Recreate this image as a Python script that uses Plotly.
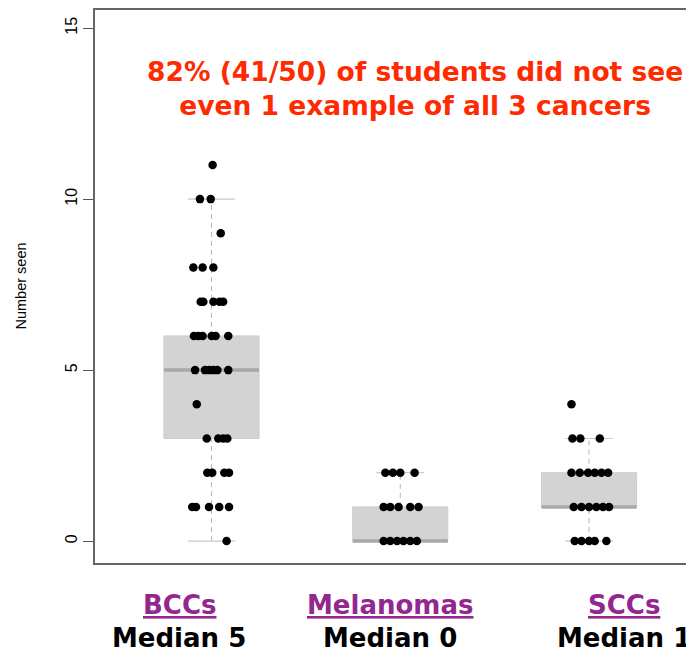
import plotly.graph_objects as go

# ---------------- data ----------------
categories = ["BCCs", "Melanomas", "SCCs"]
medians_text = ["Median 5", "Median 0", "Median 1"]
positions = [1, 2, 3]

# box statistics (R-style hinges)
q1 = [3, 0, 1]
median = [5, 0, 1]
q3 = [6, 1, 2]
lower_whisker = [0, 0, 0]
upper_whisker = [10, 2, 3]

bcc_values = [11, 10, 10, 9, 8, 8, 8, 7, 7, 7, 7, 7, 6, 6, 6, 6, 6, 6,
              5, 5, 5, 5, 5, 5, 4, 3, 3, 3, 3, 2, 2, 2, 2, 1, 1, 1, 1, 1, 0]
bcc_jitter = [0.006, -0.061, -0.004, 0.049, -0.096, -0.047, 0.010,
              -0.057, -0.043, 0.010, 0.043, 0.062,
              -0.093, -0.070, -0.047, 0.001, 0.022, 0.089,
              -0.087, -0.034, -0.012, 0.010, 0.031, 0.089,
              -0.078, -0.025, 0.036, 0.062, 0.084,
              -0.022, 0.004, 0.068, 0.093,
              -0.102, -0.082, -0.013, 0.041, 0.093, 0.080]

mel_values = [2, 2, 2, 2, 1, 1, 1, 1, 1, 0, 0, 0, 0, 0, 0]
mel_jitter = [-0.079, -0.039, 0.000, 0.076,
              -0.088, -0.053, -0.009, 0.053, 0.097,
              -0.088, -0.053, -0.017, 0.017, 0.053, 0.088]

scc_values = [4, 3, 3, 3, 2, 2, 2, 2, 2, 2, 1, 1, 1, 1, 1, 1, 0, 0, 0, 0, 0]
scc_jitter = [-0.093, -0.088, -0.046, 0.057,
              -0.093, -0.049, -0.005, 0.030, 0.066, 0.101,
              -0.081, -0.040, 0.000, 0.039, 0.074, 0.106,
              -0.076, -0.040, 0.000, 0.030, 0.092]

y_ticks = [0, 5, 10, 15]
title_lines = ["82% (41/50) of students did not see", "even 1 example of all 3 cancers"]

# ---------------- figure ----------------
# page body has an 8px margin, so the figure is sized/offset to compensate
OFF = 8
W, H = 694 - OFF, 649 - OFF
PLOT_L, PLOT_T, PLOT_B, PLOT_R = 95, 10, 563, 694   # in window pixels
ML = PLOT_L - OFF
MT = PLOT_T - OFF
MB = H - (PLOT_B - OFF)
MR = W - (PLOT_R - OFF)
BOX_HALF = 0.252
CAP_HALF = 0.126

fig = go.Figure()

box_fill = "#d3d3d3"
box_line = "#cdcdcd"
med_col = "#a8a8a8"
whisk_col = "#b4b4b4"

for p, a, m, b, lo, hi in zip(positions, q1, median, q3, lower_whisker, upper_whisker):
    fig.add_trace(go.Scatter(
        x=[p - BOX_HALF, p + BOX_HALF, p + BOX_HALF, p - BOX_HALF, p - BOX_HALF],
        y=[a, a, b, b, a], mode="lines", fill="toself", fillcolor=box_fill,
        line=dict(color=box_line, width=1), hoverinfo="skip", showlegend=False))
    if hi > b:
        fig.add_trace(go.Scatter(x=[p, p], y=[b, hi], mode="lines",
                                 line=dict(color=whisk_col, width=1, dash="5px,4px"),
                                 hoverinfo="skip", showlegend=False))
    if lo < a:
        fig.add_trace(go.Scatter(x=[p, p], y=[lo, a], mode="lines",
                                 line=dict(color=whisk_col, width=1, dash="5px,4px"),
                                 hoverinfo="skip", showlegend=False))
    for v in (lo, hi):
        fig.add_trace(go.Scatter(x=[p - CAP_HALF, p + CAP_HALF], y=[v, v], mode="lines",
                                 line=dict(color="#cacaca", width=1.2),
                                 hoverinfo="skip", showlegend=False))
    fig.add_trace(go.Scatter(x=[p - BOX_HALF, p + BOX_HALF], y=[m, m], mode="lines",
                             line=dict(color=med_col, width=3.5),
                             hoverinfo="skip", showlegend=False))

for p, vals, jit in zip(positions, [bcc_values, mel_values, scc_values],
                        [bcc_jitter, mel_jitter, scc_jitter]):
    fig.add_trace(go.Scatter(
        x=[p + j for j in jit], y=vals, mode="markers",
        marker=dict(color="black", size=8.5, line=dict(width=0)),
        showlegend=False))

pw = PLOT_R - PLOT_L
ph = PLOT_B - PLOT_T


def px_x(px):
    return (px - PLOT_L) / pw


def px_y(py):
    return 1 - (py - PLOT_T) / ph


fig.add_annotation(
    text="<br>".join(title_lines), xref="paper", yref="paper",
    x=px_x(415), y=px_y(88), xanchor="center", yanchor="middle",
    showarrow=False, align="center",
    font=dict(family="DejaVu Sans", size=26.5, color="#ff2a00", weight="bold"))

label_x = [179, 390, 624]
for cx, cat, med in zip(label_x, categories, medians_text):
    fig.add_annotation(
        text=f"<u>{cat}</u>", xref="paper", yref="paper",
        x=px_x(cx), y=px_y(605), xanchor="center", yanchor="middle",
        showarrow=False,
        font=dict(family="DejaVu Sans", size=26, color="#93278f", weight="bold"))
    fig.add_annotation(
        text=med, xref="paper", yref="paper",
        x=px_x(cx), y=px_y(638), xanchor="center", yanchor="middle",
        showarrow=False,
        font=dict(family="DejaVu Sans", size=26, color="black", weight="bold"))

fig.add_annotation(
    text="Number seen", xref="paper", yref="paper",
    x=px_x(20), y=0.5, xanchor="center", yanchor="middle", textangle=-90,
    showarrow=False, font=dict(family="Liberation Sans", size=14.5, color="black"))

fig.update_xaxes(range=[0.383, 3.556], showgrid=False, zeroline=False,
                 showticklabels=False, ticks="", showline=True, mirror=True,
                 linecolor="#666666", linewidth=1.5)
fig.update_yaxes(range=[-0.64, 15.53], showgrid=False, zeroline=False,
                 tickvals=y_ticks, ticktext=[str(t) for t in y_ticks],
                 tickangle=-90, ticks="outside", ticklen=10, tickcolor="#555555",
                 tickwidth=1, showline=True, mirror=False, linecolor="#666666",
                 linewidth=1.5,
                 tickfont=dict(family="Liberation Sans", size=16, color="black"))

fig.update_layout(width=W, height=H, margin=dict(l=ML, r=MR, t=MT, b=MB),
                  plot_bgcolor="white", paper_bgcolor="white", showlegend=False)

fig.write_html("out.html")
